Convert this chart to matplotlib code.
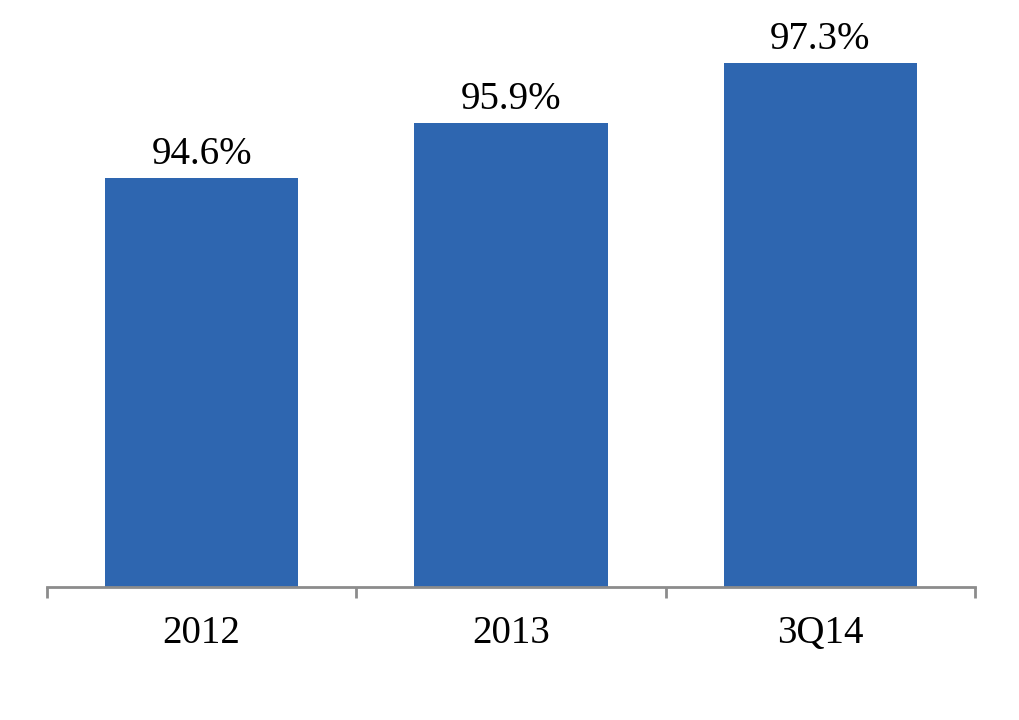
import matplotlib
matplotlib.use("Agg")
import matplotlib.pyplot as plt

categories = ["2012", "2013", "3Q14"]
values = [94.6, 95.9, 97.3]
labels = ["94.6%", "95.9%", "97.3%"]

W, H = 1020, 720
fig = plt.figure(figsize=(W / 100, H / 100), dpi=100)
# axes spans from the baseline (y=587px) to the top of the figure
ax = fig.add_axes([47 / W, (H - 587) / H, (975 - 47) / W, 587 / H])

px_per_unit = 42.6
ymin = 85.0
ax.set_ylim(ymin, ymin + 587 / px_per_unit)
ax.set_xlim(-0.5, 2.5)

x = range(len(categories))
ax.bar(x, values, width=0.625, color="#2E66B0", zorder=2)

for xi, v, lab in zip(x, values, labels):
    ax.annotate(lab, (xi, v), xytext=(0, 10), textcoords="offset points",
                ha="center", va="baseline", fontsize=28, family="Liberation Serif")

for s in ["top", "right", "left"]:
    ax.spines[s].set_visible(False)
ax.spines["bottom"].set_color("#8C8C8C")
ax.spines["bottom"].set_linewidth(2)
ax.spines["bottom"].set_zorder(3)

ax.set_yticks([])
ax.set_xticks([-0.5, 0.5, 1.5, 2.5])
ax.set_xticks(list(x), minor=True)
ax.set_xticklabels([])
ax.set_xticklabels(categories, minor=True, fontsize=28, family="Liberation Serif")
ax.tick_params(axis="x", which="major", length=8, width=2, color="#8C8C8C")
ax.tick_params(axis="x", which="minor", length=0, pad=20)

fig.savefig("out.png", dpi=100)
